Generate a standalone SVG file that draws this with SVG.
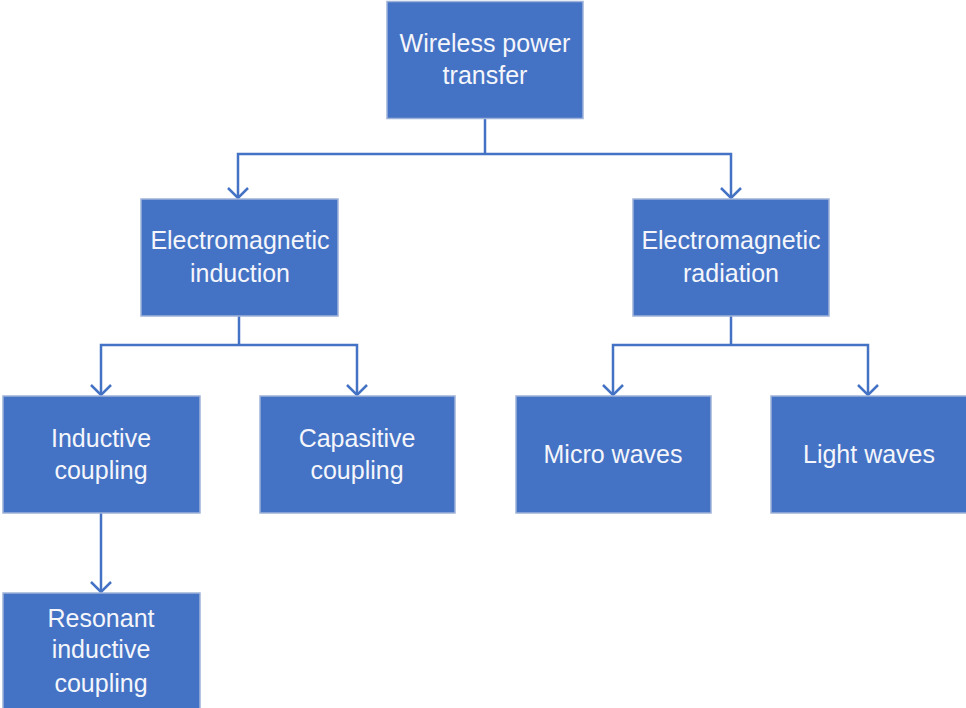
<svg xmlns="http://www.w3.org/2000/svg" width="966" height="708" viewBox="0 0 966 708">
<style>
.box{fill:#4472C4;stroke:#9fb3d9;stroke-width:1.5}
.lbl{font-family:"Liberation Sans",Arial,sans-serif;font-size:25px;fill:#f4f6fb;text-anchor:middle}
.con{fill:none;stroke:#4472C4;stroke-width:2.5}
</style>
<defs>
<marker id="arr" markerUnits="userSpaceOnUse" viewBox="-13 -13 15 26" refX="0" refY="0" markerWidth="15" markerHeight="26" orient="auto">
<path d="M-10,-10 L0,0 L-10,10" fill="none" stroke="#4472C4" stroke-width="2.5"/>
</marker>
</defs>
<rect width="966" height="708" fill="#ffffff"/>
<g id="connectors">
<path class="con" d="M485,118 V154"/>
<path class="con" d="M485,154 H238 V198" marker-end="url(#arr)"/>
<path class="con" d="M485,154 H731 V198" marker-end="url(#arr)"/>
<path class="con" d="M239,316 V345"/>
<path class="con" d="M239,345 H101 V395" marker-end="url(#arr)"/>
<path class="con" d="M239,345 H357 V395" marker-end="url(#arr)"/>
<path class="con" d="M731,316 V345"/>
<path class="con" d="M731,345 H613 V395" marker-end="url(#arr)"/>
<path class="con" d="M731,345 H868 V395" marker-end="url(#arr)"/>
<path class="con" d="M101,513 V592" marker-end="url(#arr)"/>
</g>
<g id="n-wpt"><rect class="box" x="387" y="1.5" width="196" height="117"/><text class="lbl" x="485" y="52">Wireless power</text><text class="lbl" x="485" y="84">transfer</text></g>
<g id="n-emi"><rect class="box" x="141" y="199" width="197" height="117"/><text class="lbl" x="240" y="249">Electromagnetic</text><text class="lbl" x="240" y="282">induction</text></g>
<g id="n-emr"><rect class="box" x="633" y="199" width="196" height="117"/><text class="lbl" x="731" y="249">Electromagnetic</text><text class="lbl" x="731" y="282">radiation</text></g>
<g id="n-ind"><rect class="box" x="3" y="396" width="197" height="117"/><text class="lbl" x="101" y="447">Inductive</text><text class="lbl" x="101" y="479">coupling</text></g>
<g id="n-cap"><rect class="box" x="260" y="396" width="195" height="117"/><text class="lbl" x="357" y="447">Capasitive</text><text class="lbl" x="357" y="479">coupling</text></g>
<g id="n-mic"><rect class="box" x="516" y="396" width="195" height="117"/><text class="lbl" x="613" y="463">Micro waves</text></g>
<g id="n-lig"><rect class="box" x="771" y="396" width="197" height="117"/><text class="lbl" x="869" y="463">Light waves</text></g>
<g id="n-res"><rect class="box" x="3" y="593" width="197" height="120"/><text class="lbl" x="101" y="627">Resonant</text><text class="lbl" x="101" y="658">inductive</text><text class="lbl" x="101" y="692">coupling</text></g>
</svg>
